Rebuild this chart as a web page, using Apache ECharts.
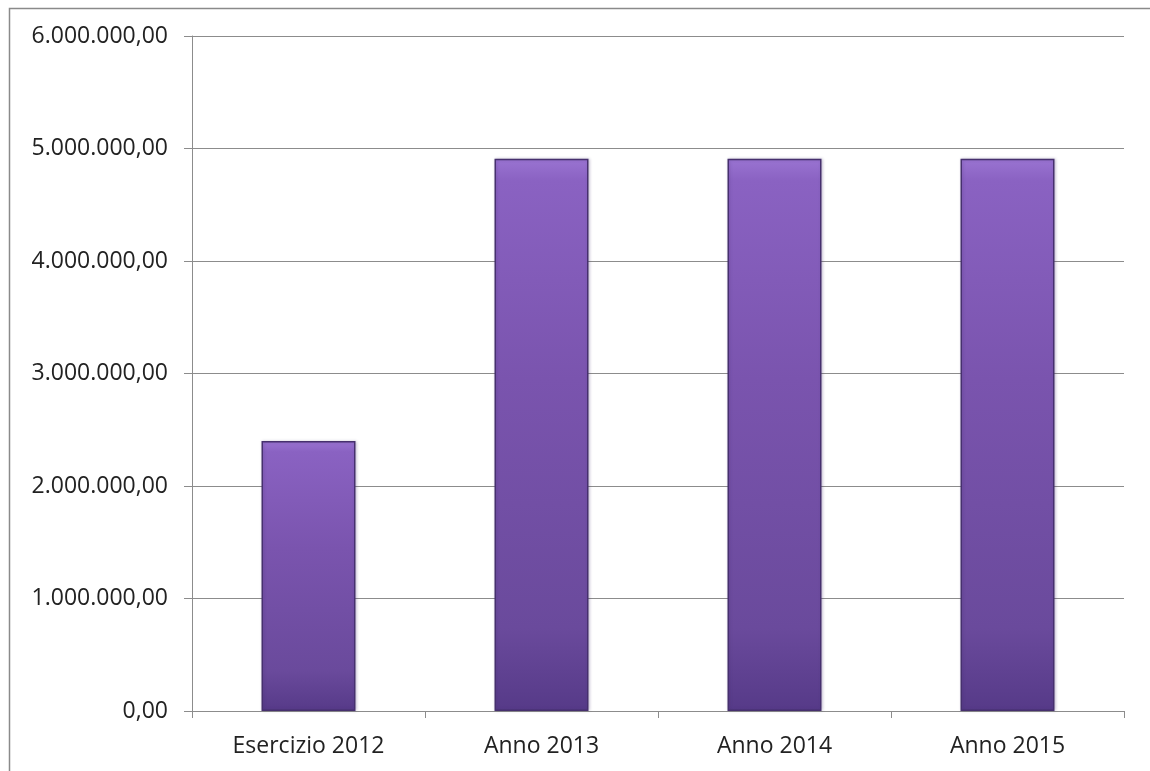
<!DOCTYPE html>
<html>
<head>
<meta charset="utf-8">
<script src="https://cdn.jsdelivr.net/npm/echarts@6/dist/echarts.min.js"></script>
<style>html,body{margin:0;padding:0;background:#fff}#c{width:1150px;height:771px}</style>
</head>
<body>
<div id="c"></div>
<script>
const categories = ['Esercizio 2012', 'Anno 2013', 'Anno 2014', 'Anno 2015'];
const values = [2400000, 4910000, 4910000, 4910000];
const yTicks = [0, 1000000, 2000000, 3000000, 4000000, 5000000, 6000000];

function fmt(v) {
  const s = Math.round(v).toString().replace(/\B(?=(\d{3})+(?!\d))/g, '.');
  return s + ',00';
}

const chart = echarts.init(document.getElementById('c'));
chart.setOption({
  backgroundColor: '#fff',
  animation: false,
  graphic: [{
    type: 'rect', left: 7, top: 6, shape: { width: 1160, height: 780 },
    style: { fill: 'none', stroke: '#8a8a8a', lineWidth: 1.5 }, silent: true
  }],
  grid: { left: 192, right: 26, top: 36, bottom: 60, containLabel: false },
  xAxis: {
    type: 'category', data: categories,
    axisLine: { lineStyle: { color: '#8c8c8c', width: 1 } },
    axisTick: { show: true, alignWithLabel: false, length: 7, lineStyle: { color: '#8c8c8c' } },
    axisLabel: { color: '#222', fontFamily: 'Open Sans', fontSize: 23, margin: 24 }
  },
  yAxis: {
    type: 'value', min: yTicks[0], max: yTicks[yTicks.length - 1], interval: 1000000,
    axisLine: { show: true, lineStyle: { color: '#8c8c8c', width: 1 } },
    axisTick: { show: true, length: 8, lineStyle: { color: '#8c8c8c' } },
    splitLine: { lineStyle: { color: '#8c8c8c', width: 1 } },
    axisLabel: { color: '#222', fontFamily: 'Open Sans', fontSize: 23, margin: 24, formatter: fmt }
  },
  series: [{
    type: 'bar', data: values, barWidth: 94,
    itemStyle: {
      borderColor: '#46306e', borderWidth: 1.5,
      color: {
        type: 'linear', x: 0, y: 0, x2: 0, y2: 1,
        colorStops: [
          { offset: 0, color: '#9a74d2' },
          { offset: 0.04, color: '#8a62c2' },
          { offset: 0.4, color: '#7a54ae' },
          { offset: 0.85, color: '#6a4a9c' },
          { offset: 1, color: '#563a88' }
        ]
      },
      shadowColor: 'rgba(60,40,100,0.25)', shadowBlur: 3, shadowOffsetX: 1, shadowOffsetY: 0
    }
  }]
});
</script>
</body>
</html>
